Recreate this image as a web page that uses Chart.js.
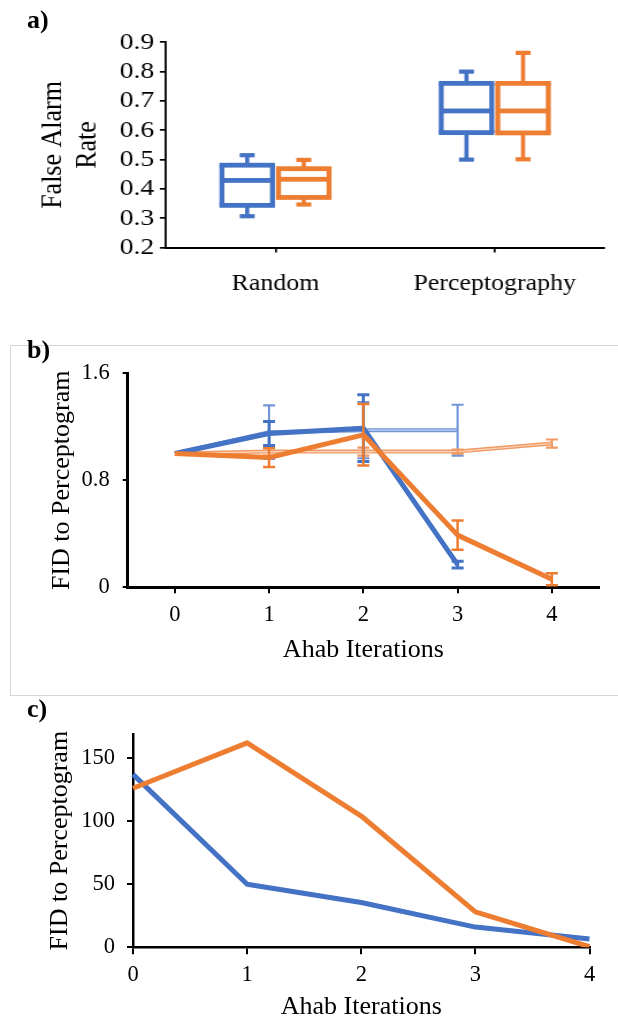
<!DOCTYPE html>
<html><head><meta charset="utf-8">
<script src="https://cdn.jsdelivr.net/npm/chart.js@4.4.1/dist/chart.umd.min.js"></script>
<style>
html,body{margin:0;padding:0;background:#fff;width:618px;height:1023px;overflow:hidden;position:relative;font-family:"Liberation Serif","Times New Roman",serif;}
.lbl{position:absolute;font-weight:bold;font-size:26px;line-height:26px;color:#000;}
#boxB{position:absolute;left:10px;top:345px;width:640px;height:351px;border:1px solid #d6d6d6;box-sizing:border-box;}
#wrapA{position:absolute;left:0;top:0;width:537px;height:335px;transform:scaleX(1.1508);transform-origin:0 0;}
</style></head><body>
<div id="boxB"></div>
<div id="wrapA"><canvas id="cA" width="537" height="335"></canvas></div>
<canvas id="cB" width="618" height="355" style="position:absolute;left:0;top:340px"></canvas>
<canvas id="cC" width="618" height="328" style="position:absolute;left:0;top:695px"></canvas>
<div class="lbl" style="left:27px;top:7px">a)</div>
<div class="lbl" style="left:27px;top:337px">b)</div>
<div class="lbl" style="left:27px;top:696px">c)</div>
<script>
// ---------- data ----------
const boxCategories = ['Random', 'Perceptography'];
const blueMin    = [0.307, 0.500];
const blueQ1     = [0.344, 0.592];
const blueMedian = [0.429, 0.666];
const blueQ3     = [0.481, 0.760];
const blueMax    = [0.515, 0.800];
const orangeMin    = [0.347, 0.501];
const orangeQ1     = [0.371, 0.591];
const orangeMedian = [0.433, 0.666];
const orangeQ3     = [0.469, 0.760];
const orangeMax    = [0.499, 0.864];
const boxTicks = [0.2, 0.3, 0.4, 0.5, 0.6, 0.7, 0.8, 0.9];

const iterations = ['0', '1', '2', '3', '4'];
const relBlueThick      = [1.00, 1.15, 1.19, 0.17, null];
const relBlueThickErr   = [0, 0.09, 0.25, 0.025, null];
const relOrangeThick    = [1.00, 0.97, 1.14, 0.39, 0.06];
const relOrangeThickErr = [0, 0.07, 0.23, 0.11, 0.045];
const relBlueThin       = [1.00, 1.16, 1.175, 1.175, null];
const relBlueThinErr    = [0, 0.20, 0.21, 0.19, null];
const relOrangeThin     = [1.00, 1.015, 1.015, 1.015, 1.075];
const relOrangeThinErr  = [0, 0.03, 0.03, 0.015, 0.03];

const absBlue   = [137, 50, 35.5, 16, 6.5];
const absOrange = [126, 162, 104, 28, 0.5];

const BLUE = '#4472C4', ORANGE = '#ED7D31';
const BLUE_L = '#7196d8', ORANGE_L = '#f29a63';

Chart.defaults.font.family = "'Liberation Serif','Times New Roman',serif";
Chart.defaults.color = '#000';
Chart.defaults.animation = false;

// ---------- plugins ----------
const boxPlugin = {
  id: 'boxWhiskers',
  afterDatasetsDraw(chart) {
    const y = chart.scales.y, ctx = chart.ctx;
    chart.data.datasets.forEach((ds, di) => {
      const meta = chart.getDatasetMeta(di);
      const st = ds.stats;
      meta.data.forEach((bar, i) => {
        const x = bar.x, hw = bar.width / 2;
        const pMin = y.getPixelForValue(st.min[i]);
        const pQ1 = y.getPixelForValue(st.q1[i]);
        const pMed = y.getPixelForValue(st.med[i]);
        const pQ3 = y.getPixelForValue(st.q3[i]);
        const pMax = y.getPixelForValue(st.max[i]);
        const lh = 4.8, lv = 4.3, wv = 3.6, cap = 6.5, ch = 4.2;
        ctx.save();
        ctx.fillStyle = ds.lineColor;
        ctx.fillRect(x - wv / 2, pMax, wv, pQ3 - pMax);
        ctx.fillRect(x - wv / 2, pQ1, wv, pMin - pQ1);
        ctx.fillRect(x - cap, pMax - ch / 2, cap * 2, ch);
        ctx.fillRect(x - cap, pMin - ch / 2, cap * 2, ch);
        ctx.fillRect(x - hw - lv / 2, pQ3 - lh / 2, 2 * hw + lv, lh);
        ctx.fillRect(x - hw - lv / 2, pQ1 - lh / 2, 2 * hw + lv, lh);
        ctx.fillRect(x - hw - lv / 2, pQ3, lv, pQ1 - pQ3);
        ctx.fillRect(x + hw - lv / 2, pQ3, lv, pQ1 - pQ3);
        ctx.fillRect(x - hw, pMed - lh / 2, 2 * hw, lh);
        ctx.restore();
      });
    });
  }
};

const errPlugin = {
  id: 'errorBars',
  afterDatasetDraw(chart, args) {
    const ds = chart.data.datasets[args.index];
    const meta = args.meta, y = chart.scales.y, ctx = chart.ctx;
    ctx.save();
    if (ds.doubleLine) {
      ctx.strokeStyle = 'rgba(255,255,255,0.6)';
      ctx.lineWidth = 1.2;
      ctx.lineJoin = 'round';
      ctx.beginPath();
      let started = false;
      meta.data.forEach((pt, i) => {
        if (ds.data[i] == null) return;
        if (!started) { ctx.moveTo(pt.x, pt.y); started = true; } else ctx.lineTo(pt.x, pt.y);
      });
      ctx.stroke();
    }
    if (ds.errors) {
      ctx.strokeStyle = ds.errorColor;
      ctx.lineWidth = ds.errorWidth;
      meta.data.forEach((pt, i) => {
        const v = ds.data[i], e = ds.errors[i];
        if (v == null || !e) return;
        const x = pt.x, yt = y.getPixelForValue(v + e), yb = y.getPixelForValue(v - e), c = ds.capHalf;
        ctx.beginPath();
        ctx.moveTo(x, yt); ctx.lineTo(x, yb);
        ctx.moveTo(x - c, yt); ctx.lineTo(x + c, yt);
        ctx.moveTo(x - c, yb); ctx.lineTo(x + c, yb);
        ctx.stroke();
      });
    }
    ctx.restore();
  }
};

// ---------- panel a ----------
new Chart(document.getElementById('cA'), {
  type: 'bar',
  data: {
    labels: boxCategories,
    datasets: [
      { data: boxCategories.map((_, i) => [blueQ1[i], blueQ3[i]]), backgroundColor: '#fff', borderWidth: 0,
        categoryPercentage: 0.516, barPercentage: 0.893, lineColor: BLUE,
        stats: { min: blueMin, q1: blueQ1, med: blueMedian, q3: blueQ3, max: blueMax } },
      { data: boxCategories.map((_, i) => [orangeQ1[i], orangeQ3[i]]), backgroundColor: '#fff', borderWidth: 0,
        categoryPercentage: 0.516, barPercentage: 0.893, lineColor: ORANGE,
        stats: { min: orangeMin, q1: orangeQ1, med: orangeMedian, q3: orangeQ3, max: orangeMax } }
    ]
  },
  options: {
    responsive: false, animation: false,
    layout: { padding: { left: 10, top: 42.3, right: 11.8, bottom: 5 } },
    plugins: { legend: { display: false }, tooltip: { enabled: false } },
    scales: {
      x: {
        offset: true,
        grid: { offset: false, drawOnChartArea: false, tickLength: 5, color: '#000', lineWidth: 1.7 },
        border: { color: '#000', width: 2 },
        ticks: { font: { size: 22.5 }, padding: 17.9, maxRotation: 0, autoSkip: false },
        afterFit: s => { s.height = 82.4; }
      },
      y: {
        min: boxTicks[0], max: boxTicks[boxTicks.length - 1],
        afterBuildTicks: s => { s.ticks = boxTicks.map(v => ({ value: v })); },
        ticks: { font: { size: 24 }, padding: 5, autoSkip: false, callback: v => Number(v).toFixed(1) },
        grid: { drawOnChartArea: false, tickLength: 5.2, color: '#000', lineWidth: 1.7 },
        border: { color: '#000', width: 1.8 },
        title: { display: true, text: ['False Alarm', 'Rate'], font: { size: 26, lineHeight: 1.15 }, padding: { top: 21.3, bottom: 0 } },
        afterFit: s => { s.width = 134.1; }
      }
    }
  },
  plugins: [boxPlugin]
});

// ---------- panel b ----------
new Chart(document.getElementById('cB'), {
  type: 'line',
  data: {
    labels: iterations,
    datasets: [
      { data: relOrangeThick, errors: relOrangeThickErr, borderColor: ORANGE, borderWidth: 5, errorColor: ORANGE, errorWidth: 2.5, capHalf: 6 },
      { data: relBlueThick, errors: relBlueThickErr, borderColor: BLUE, borderWidth: 5, errorColor: BLUE, errorWidth: 3, capHalf: 6 },
      { data: relOrangeThin, errors: relOrangeThinErr, borderColor: ORANGE_L, borderWidth: 4, errorColor: ORANGE_L, errorWidth: 2.2, capHalf: 6, doubleLine: true },
      { data: relBlueThin, errors: relBlueThinErr, borderColor: BLUE_L, borderWidth: 4, errorColor: BLUE_L, errorWidth: 2.2, capHalf: 6, doubleLine: true }
    ]
  },
  options: {
    responsive: false, animation: false,
    elements: { point: { radius: 0 }, line: { tension: 0, borderJoinStyle: 'round', fill: false } },
    layout: { padding: { left: 20, top: 33.3, right: 19, bottom: 0 } },
    plugins: { legend: { display: false }, tooltip: { enabled: false } },
    scales: {
      x: {
        type: 'category', offset: true,
        grid: { offset: false, drawOnChartArea: false, tickLength: 6, color: '#000', lineWidth: 2 },
        border: { color: '#000', width: 3 },
        ticks: { font: { size: 22.5 }, padding: 8.2, maxRotation: 0 },
        title: { display: true, text: 'Ahab Iterations', font: { size: 26, lineHeight: 1.2 }, padding: { top: 0, bottom: 29.4 } },
        afterFit: s => { s.height = 107.7; }
      },
      y: {
        min: 0, max: 1.6,
        ticks: { stepSize: 0.8, font: { size: 22.5 }, padding: 13 },
        grid: { drawOnChartArea: false, tickLength: 5, color: '#000', lineWidth: 2 },
        border: { color: '#000', width: 3 },
        title: { display: true, text: 'FID to Perceptogram', font: { size: 26, lineHeight: 1.2 }, padding: { top: 26.1, bottom: 0 } },
        afterFit: s => { s.width = 107.7; }
      }
    }
  },
  plugins: [errPlugin]
});

// ---------- panel c ----------
new Chart(document.getElementById('cC'), {
  type: 'line',
  data: {
    labels: iterations,
    datasets: [
      { data: absOrange, borderColor: ORANGE, borderWidth: 5 },
      { data: absBlue, borderColor: BLUE, borderWidth: 5 }
    ]
  },
  options: {
    responsive: false, animation: false,
    elements: { point: { radius: 0 }, line: { tension: 0, borderJoinStyle: 'round', fill: false } },
    layout: { padding: { left: 20, top: 39, right: 28.5, bottom: 0 } },
    plugins: { legend: { display: false }, tooltip: { enabled: false } },
    scales: {
      x: {
        type: 'category', offset: false,
        grid: { offset: false, drawOnChartArea: false, tickLength: 7, color: '#000', lineWidth: 2 },
        border: { color: '#000', width: 2.5 },
        ticks: { font: { size: 22.5 }, padding: 7.2, maxRotation: 0 },
        title: { display: true, text: 'Ahab Iterations', font: { size: 26, lineHeight: 1.2 }, padding: { top: 0, bottom: 0 } },
        afterFit: s => { s.height = 75.7; }
      },
      y: {
        min: 0, max: 169,
        ticks: { stepSize: 50, includeBounds: false, font: { size: 22.5 }, padding: 12 },
        afterBuildTicks: s => { s.ticks = s.ticks.filter(t => t.value % 50 === 0); },
        grid: { drawOnChartArea: false, tickLength: 6, color: '#000', lineWidth: 2 },
        border: { color: '#000', width: 2.5 },
        title: { display: true, text: 'FID to Perceptogram', font: { size: 26, lineHeight: 1.2 }, padding: { top: 24.4, bottom: 0 } },
        afterFit: s => { s.width = 113; }
      }
    }
  }
});
</script>
</body></html>
